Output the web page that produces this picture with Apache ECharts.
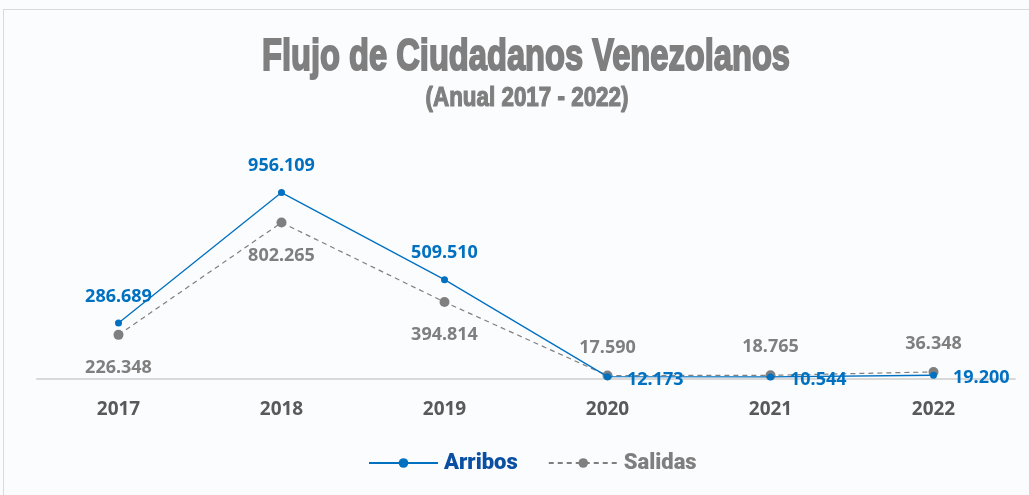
<!DOCTYPE html>
<html><head><meta charset="utf-8">
<script src="https://cdn.jsdelivr.net/npm/echarts@6/dist/echarts.min.js"></script>
<style>
html,body{margin:0;padding:0;background:#fbfcfe;}
#frame{position:absolute;left:3px;top:9px;width:1100px;height:600px;border:1px solid #d9dadc;box-sizing:border-box;}
#chart{position:absolute;left:0;top:0;width:1029px;height:495px;}
</style></head>
<body><div id="frame"></div><div id="chart"></div>
<script>
const categories = ['2017','2018','2019','2020','2021','2022'];
const arribos = [286689, 956109, 509510, 12173, 10544, 19200];
const salidas = [226348, 802265, 394814, 17590, 18765, 36348];
const titleText = 'Flujo de Ciudadanos Venezolanos';
const subtitleText = '(Anual 2017 - 2022)';

const fmt = v => String(v).replace(/\B(?=(\d{3})+(?!\d))/g, '.');
const BLUE = '#0070c0', GRAY = '#7f7f7f';
const numFont = '"Noto Sans", sans-serif';
const legFont = 'Roboto, sans-serif';

// horizontally condensed heavy title text (no condensed fonts installed)
const titleFont = 'bold 45px "Liberation Sans"';
const subFont = 'bold 27px "Liberation Sans"';
const ctx = document.createElement('canvas').getContext('2d');
function textW(t, f) { ctx.font = f; return ctx.measureText(t).width; }
const titleScale = 528 / textW(titleText, titleFont);
const subScale = 203 / textW(subtitleText, subFont);

function labelsFor(vals, posFn, color) {
  return vals.map((v, i) => ({
    value: v,
    label: Object.assign({ show: true, formatter: p => fmt(p.value), color: color,
      fontFamily: numFont, fontWeight: 'bold', fontSize: 18 }, posFn(i))
  }));
}

const chart = echarts.init(document.getElementById('chart'), null, {renderer: 'canvas'});
chart.setOption({
  animation: false,
  graphic: [{
    type: 'text', x: 526, y: 58, scaleX: titleScale,
    style: { text: titleText, font: titleFont, fill: GRAY, stroke: GRAY, lineWidth: 2,
      textAlign: 'center', textVerticalAlign: 'middle' }
  }, {
    type: 'text', x: 527, y: 99, scaleX: subScale,
    style: { text: subtitleText, font: subFont, fill: GRAY, stroke: GRAY, lineWidth: 1.2,
      textAlign: 'center', textVerticalAlign: 'middle' }
  }],
  grid: { left: 37, right: 14, top: 145, bottom: 116 },
  xAxis: {
    type: 'category', data: categories, boundaryGap: true,
    axisLine: { lineStyle: { color: '#d9d9d9', width: 2 } },
    axisTick: { show: false },
    axisLabel: { color: '#595959', fontFamily: numFont, fontWeight: 'bold', fontSize: 19, margin: 21 }
  },
  yAxis: { type: 'value', min: 0, max: 1200000, show: false, splitLine: { show: false } },
  legend: {
    top: 452, left: 368, padding: 0, itemWidth: 69, itemHeight: 12, itemGap: 30,
    data: [
      { name: 'Arribos', textStyle: { color: '#0b4fa3' } },
      { name: 'Salidas', textStyle: { color: GRAY } }
    ],
    textStyle: { fontFamily: legFont, fontWeight: 900, fontSize: 22, padding: [0, 0, 0, 1] }
  },
  series: [{
    name: 'Arribos', type: 'line', data: labelsFor(arribos, i => i < 3 ? { position: 'top', distance: 14 } : { position: 'right', distance: 16, offset: [0, 3] }, BLUE),
    symbol: 'circle', symbolSize: 7, color: BLUE,
    lineStyle: { color: BLUE, width: 1.3 }, itemStyle: { color: BLUE }, z: 3
  }, {
    name: 'Salidas', type: 'line', data: labelsFor(salidas, i => i < 3 ? { position: 'bottom', distance: 19 } : { position: 'top', distance: 14 }, GRAY),
    symbol: 'circle', symbolSize: 10, color: GRAY,
    lineStyle: { color: GRAY, width: 1.2, type: [5, 4] }, itemStyle: { color: GRAY }, z: 2
  }]
});
</script></body></html>
